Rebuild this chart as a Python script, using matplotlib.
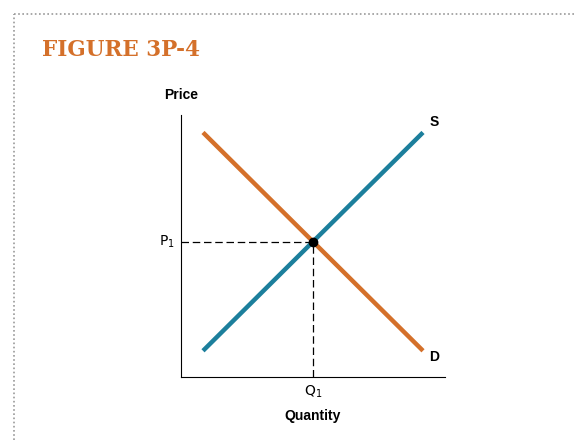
import matplotlib
matplotlib.use("Agg")
import matplotlib.pyplot as plt
from matplotlib.lines import Line2D

ORANGE = "#D4702A"
TEAL = "#1C7F9C"

quantity = [1.0, 11.0]
demand_price = [11.2, 1.2]
supply_price = [1.2, 11.2]
q1, p1 = 6.0, 6.2

fig = plt.figure(figsize=(5.76, 4.4), dpi=100)

# dotted frame (top and left edges)
fig.add_artist(Line2D([14 / 576, 1.0], [1 - 14 / 440] * 2, color="#999999",
                      lw=1.2, ls=(0, (1, 1.5)), transform=fig.transFigure))
fig.add_artist(Line2D([14 / 576] * 2, [0.0, 1 - 14 / 440], color="#999999",
                      lw=1.2, ls=(0, (1, 1.5)), transform=fig.transFigure))

fig.text(42 / 576, 1 - 50 / 440, "FIGURE 3P-4", color=ORANGE, fontsize=15.5,
         fontweight="bold", family="DejaVu Serif", ha="left", va="center")

ax = fig.add_axes([181 / 576, 1 - 377 / 440, 264 / 576, 262 / 440])
ax.set_xlim(0, 12)
ax.set_ylim(0, 12)
for s in ("top", "right"):
    ax.spines[s].set_visible(False)
for s in ("left", "bottom"):
    ax.spines[s].set_linewidth(0.8)
ax.set_xticks([])
ax.set_yticks([])

ax.plot([0, q1], [p1, p1], color="black", lw=0.9, ls=(0, (6, 3)))
ax.plot([q1, q1], [0, p1], color="black", lw=0.9, ls=(0, (6, 3)))
ax.plot(quantity, demand_price, color=ORANGE, lw=3.2, solid_capstyle="butt")
ax.plot(quantity, supply_price, color=TEAL, lw=3.2, solid_capstyle="butt")
ax.plot([q1], [p1], "o", color="black", ms=6, zorder=5)

font = dict(fontsize=10, fontweight="bold", family="Liberation Sans")
ax.text(11.5, 11.7, "S", ha="center", va="center", **font)
ax.text(11.5, 0.9, "D", ha="center", va="center", **font)
ax.text(-0.3, p1, "P$_1$", ha="right", va="center", fontsize=10)
ax.text(q1, -0.3, "Q$_1$", ha="center", va="top", fontsize=10)
ax.text(q1, -1.45, "Quantity", ha="center", va="top", **font)
ax.text(0, 12.6, "Price", ha="center", va="bottom", **font)

fig.savefig("out.png", dpi=100)
